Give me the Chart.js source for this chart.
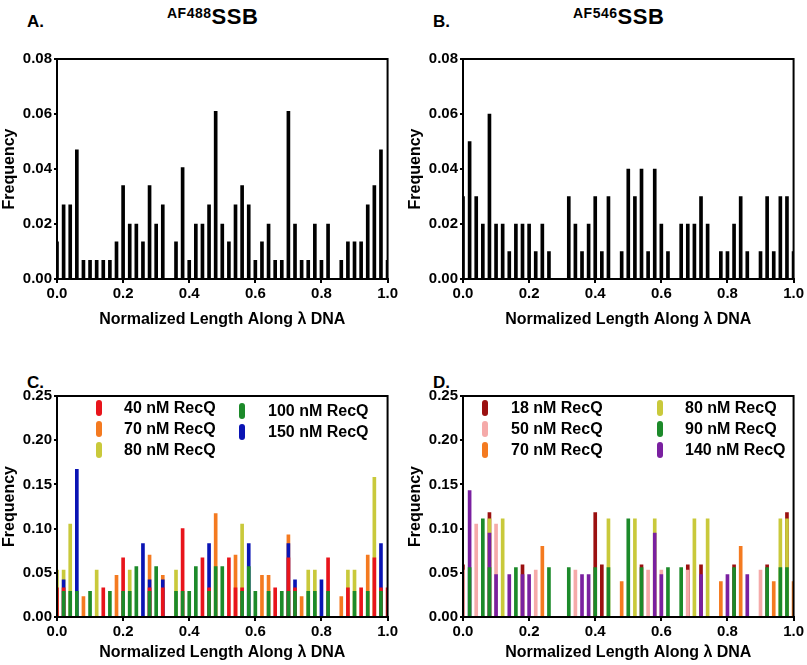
<!DOCTYPE html>
<html>
<head>
<meta charset="utf-8">
<script src="https://cdn.jsdelivr.net/npm/chart.js@4.4.0/dist/chart.umd.min.js"></script>
<style>
  body { margin: 0; background: #fff; width: 807px; height: 665px; position: relative; overflow: hidden;
         font-family: "Liberation Sans", Arial, sans-serif; font-weight: bold; color: #000; }
  canvas { position: absolute; }
  .lab { position: absolute; font-size: 17px; line-height: 20px; }
  .title { position: absolute; font-size: 22px; line-height: 26px; letter-spacing: 0.5px; white-space: nowrap; }
  .title span { font-size: 14px; vertical-align: 6px; letter-spacing: 0.5px; }
  .sw { position: absolute; width: 6px; height: 16px; border-radius: 3px; z-index: 2; }
  .lt { position: absolute; font-size: 16px; line-height: 20px; white-space: nowrap; z-index: 2; }
</style>
</head>
<body>
<div class="lab" style="left:27px;top:12px">A.</div>
<div class="lab" style="left:433px;top:12px">B.</div>
<div class="lab" style="left:27px;top:373px">C.</div>
<div class="lab" style="left:433px;top:373px">D.</div>
<div class="title" style="left:167px;top:0px"><span>AF488</span>SSB</div>
<div class="title" style="left:573px;top:0px"><span>AF546</span>SSB</div>

<canvas id="chartA" width="400" height="300" style="left:0;top:40px"></canvas>
<canvas id="chartB" width="400" height="300" style="left:406px;top:40px"></canvas>
<canvas id="chartC" width="400" height="288" style="left:0;top:377px"></canvas>
<canvas id="chartD" width="400" height="288" style="left:406px;top:377px"></canvas>

<script>
// bin centres along lambda DNA (normalized)
const binPositions = [0.00,0.02,0.04,0.06,0.08,0.10,0.12,0.14,0.16,0.18,
  0.20,0.22,0.24,0.26,0.28,0.30,0.32,0.34,0.36,0.38,
  0.40,0.42,0.44,0.46,0.48,0.50,0.52,0.54,0.56,0.58,
  0.60,0.62,0.64,0.66,0.68,0.70,0.72,0.74,0.76,0.78,
  0.80,0.82,0.84,0.86,0.88,0.90,0.92,0.94,0.96,0.98,1.00];

// A: AF488 SSB
const freqA = [0.0135,0.027,0.027,0.047,0.0068,0.0068,0.0068,0.0068,0.0068,0.0135,
  0.034,0.020,0.020,0.0135,0.034,0.020,0.027,0,0.0135,0.0405,
  0.0068,0.020,0.020,0.027,0.061,0.020,0.0135,0.027,0.034,0.027,
  0.0068,0.0135,0.020,0.0068,0.0068,0.061,0.020,0.0068,0.0068,0.020,
  0.0068,0.020,0,0.0068,0.0135,0.0135,0.0135,0.027,0.034,0.047,0.0068];

// B: AF546 SSB
const freqB = [0.03,0.05,0.03,0.02,0.06,0.02,0.02,0.01,0.02,0.02,
  0.02,0.01,0.02,0.01,0,0,0.03,0.02,0.01,0.02,
  0.03,0.01,0.03,0,0.01,0.04,0.03,0.04,0.01,0.04,
  0.02,0.01,0,0.02,0.02,0.02,0.03,0.02,0,0.01,
  0.01,0.02,0.03,0.01,0,0.01,0.03,0.01,0.03,0.03,0.01];

// C: RecQ series
const recq40C = [0.033,0.033,0,0,0,0,0,0.033,0,0,
  0.067,0,0,0,0.033,0,0.033,0,0,0.100,
  0,0,0.067,0.033,0,0,0.067,0.033,0.033,0,
  0,0,0,0.033,0,0.067,0.033,0,0,0,
  0,0.067,0,0,0.033,0,0.033,0,0.067,0.033,0.033];
const recq70C = [0,0,0,0,0.023,0,0,0,0,0.047,
  0,0,0,0,0.070,0,0.047,0,0,0,
  0,0,0,0,0.117,0,0,0.070,0,0,
  0,0.047,0.047,0,0,0.093,0,0.023,0,0,
  0,0,0,0.023,0,0,0,0.070,0,0,0];
const recq80C = [0.053,0.053,0.105,0,0,0,0.053,0,0,0,
  0,0.053,0,0,0,0,0,0,0.053,0,
  0,0,0,0,0,0,0,0,0.105,0,
  0,0,0,0,0,0,0,0,0.053,0.053,
  0,0,0,0,0.053,0.053,0,0,0.158,0,0];
const recq100C = [0,0.029,0.029,0.029,0,0.029,0,0,0.029,0,
  0.029,0.029,0.057,0,0.029,0.057,0,0,0.029,0.029,
  0.029,0.057,0,0.029,0.057,0.057,0,0,0.029,0.057,
  0.029,0,0.029,0,0.029,0.029,0.029,0,0.029,0.029,
  0,0.029,0,0,0,0.029,0,0.029,0,0.029,0];
const recq150C = [0,0.042,0,0.167,0,0,0,0,0,0,
  0,0,0,0.083,0.042,0,0.042,0,0,0,
  0,0,0,0.083,0,0,0,0,0,0.083,
  0,0,0,0,0,0.083,0.042,0,0,0,
  0.042,0,0,0,0,0,0,0,0,0.083,0];

// D: RecQ series
const recq18D = [0.059,0,0,0,0.118,0,0,0,0,0.059,
  0,0,0,0,0,0,0,0,0,0,
  0.118,0.059,0,0,0,0,0,0.059,0,0,
  0,0,0,0,0.059,0,0.059,0,0,0,
  0,0.059,0,0,0,0,0.059,0,0,0.118,0];
const recq50D = [0.053,0,0.105,0,0,0.105,0,0,0,0,
  0,0.053,0,0,0,0,0,0.053,0,0,
  0,0,0,0,0,0,0,0,0.053,0,
  0.053,0,0,0,0.053,0,0,0,0,0,
  0,0,0,0,0,0.053,0,0,0,0,0];
const recq70D = [0,0,0,0,0,0,0,0,0,0,
  0,0,0.080,0,0,0,0,0,0,0,
  0,0,0,0,0.040,0,0,0,0,0,
  0,0,0,0,0,0,0,0,0,0.040,
  0,0,0.080,0,0,0,0,0.040,0,0,0.040];
const recq80D = [0,0,0,0,0.111,0,0.111,0,0,0,
  0,0,0,0,0,0,0,0,0,0,
  0,0,0.111,0,0,0,0.111,0,0,0.111,
  0,0,0,0,0,0.111,0,0.111,0,0,
  0,0,0,0,0,0,0,0,0.111,0.111,0];
const recq90D = [0,0.056,0,0.111,0.056,0,0,0,0.056,0,
  0,0,0,0.056,0,0,0.056,0,0,0,
  0.056,0,0.056,0,0,0.111,0,0.056,0,0,
  0,0.056,0,0.056,0,0,0,0,0,0,
  0,0.056,0,0,0,0,0.056,0,0.056,0.056,0];
const recq140D = [0,0.143,0,0,0.095,0.048,0,0.048,0,0.048,
  0.048,0,0,0,0,0,0,0,0.048,0.048,
  0,0,0,0,0,0,0,0,0,0.095,
  0.048,0,0,0,0,0,0.048,0,0,0,
  0.048,0,0,0.048,0,0,0,0,0,0,0];

const seriesC = [
  { label: '40 nM RecQ', values: recq40C, color: '#e8141b' },
  { label: '70 nM RecQ', values: recq70C, color: '#f47a20' },
  { label: '80 nM RecQ', values: recq80C, color: '#c9c93b' },
  { label: '100 nM RecQ', values: recq100C, color: '#1c8a2a' },
  { label: '150 nM RecQ', values: recq150C, color: '#0a14b4' }
];
const seriesD = [
  { label: '18 nM RecQ', values: recq18D, color: '#9b1010' },
  { label: '50 nM RecQ', values: recq50D, color: '#f5aaa9' },
  { label: '70 nM RecQ', values: recq70D, color: '#f47a20' },
  { label: '80 nM RecQ', values: recq80D, color: '#c9c93b' },
  { label: '90 nM RecQ', values: recq90D, color: '#1c8a2a' },
  { label: '140 nM RecQ', values: recq140D, color: '#7a20a0' }
];

// box round the plot area
const frameBox = {
  id: 'frameBox',
  afterDraw(chart) {
    const { ctx, chartArea: a } = chart;
    ctx.save();
    ctx.strokeStyle = '#000';
    ctx.lineWidth = 2;
    ctx.strokeRect(a.left, a.top, a.right - a.left, a.bottom - a.top);
    ctx.restore();
  }
};

// overlapping histograms: in each bin the taller bar goes behind the shorter one
function overlapLayers(series) {
  const stacks = binPositions.map((x, i) => series
    .filter(s => s.values[i] > 0)
    .map(s => ({ v: s.values[i], color: s.color }))
    .sort((a, b) => b.v - a.v));
  const depth = Math.max(...stacks.map(s => s.length));
  const layers = [];
  for (let k = 0; k < depth; k++) {
    layers.push({
      data: binPositions.map((x, i) => ({ x: x, y: stacks[i][k] ? stacks[i][k].v : null })),
      backgroundColor: stacks.map(s => s[k] ? s[k].color : 'rgba(0,0,0,0)'),
      order: -k
    });
  }
  return layers;
}

function makeChart(id, datasets, yMax, yStep, box) {
  const tickFont = { family: '"Liberation Sans", Arial, sans-serif', size: 15, weight: 'bold' };
  const titleFont = { family: '"Liberation Sans", Arial, sans-serif', size: 16, weight: 'bold' };
  return new Chart(document.getElementById(id), {
    type: 'bar',
    data: { datasets: datasets.map(d => Object.assign({ barThickness: 3, grouped: false, borderWidth: 0 }, d)) },
    options: {
      responsive: false,
      animation: false,
      layout: { padding: { left: 0, right: 11, top: 19, bottom: box.padBottom } },
      plugins: { legend: { display: false }, tooltip: { enabled: false } },
      scales: {
        x: {
          type: 'linear', min: 0, max: 1, offset: false,
          grid: { offset: false, drawOnChartArea: false, drawTicks: true, tickLength: 4, color: '#000', lineWidth: 2 },
          border: { display: true, color: '#000', width: 2 },
          ticks: { stepSize: 0.2, color: '#000', font: tickFont, padding: 2, maxRotation: 0,
                   callback: v => v.toFixed(1) },
          title: { display: true, text: 'Normalized Length Along λ DNA', color: '#000', font: titleFont,
                   padding: { top: 0, bottom: box.titlePad } },
          afterFit: s => { s.height = box.xHeight; }
        },
        y: {
          min: 0, max: yMax,
          grid: { drawOnChartArea: false, drawTicks: true, tickLength: 3, color: '#000', lineWidth: 2 },
          border: { display: true, color: '#000', width: 2 },
          ticks: { stepSize: yStep, color: '#000', font: tickFont, padding: 2,
                   callback: v => v.toFixed(2) },
          title: { display: true, text: 'Frequency', color: '#000', font: titleFont, padding: 0 },
          afterFit: s => { s.width = 57; }
        }
      }
    },
    plugins: [frameBox]
  });
}

// legend drawn as page text, column by column
function addLegend(series, cols) {
  let n = 0;
  cols.forEach(col => {
    col.rows.forEach(cy => {
      const s = series[n++];
      if (!s) return;
      const sw = document.createElement('div');
      sw.className = 'sw';
      sw.style.left = col.swatchX + 'px';
      sw.style.top = (cy - 8) + 'px';
      sw.style.background = s.color;
      document.body.appendChild(sw);
      const t = document.createElement('div');
      t.className = 'lt';
      t.style.left = col.textX + 'px';
      t.style.top = (cy - 10) + 'px';
      t.textContent = s.label;
      document.body.appendChild(t);
    });
  });
}

const boxTop = { padBottom: 6, xHeight: 55, titlePad: 5 };
const boxBottom = { padBottom: 0, xHeight: 48, titlePad: 3 };

makeChart('chartA', [{ data: binPositions.map((x, i) => ({ x: x, y: freqA[i] })), backgroundColor: '#000' }], 0.08, 0.02, boxTop);
makeChart('chartB', [{ data: binPositions.map((x, i) => ({ x: x, y: freqB[i] })), backgroundColor: '#000' }], 0.08, 0.02, boxTop);
makeChart('chartC', overlapLayers(seriesC), 0.25, 0.05, boxBottom);
makeChart('chartD', overlapLayers(seriesD), 0.25, 0.05, boxBottom);

addLegend(seriesC, [
  { swatchX: 96, textX: 124, rows: [408, 429, 450] },
  { swatchX: 239, textX: 268, rows: [411, 432] }
]);
addLegend(seriesD, [
  { swatchX: 482, textX: 511, rows: [408, 429, 450] },
  { swatchX: 657, textX: 685, rows: [408, 429, 450] }
]);
</script>
</body>
</html>
